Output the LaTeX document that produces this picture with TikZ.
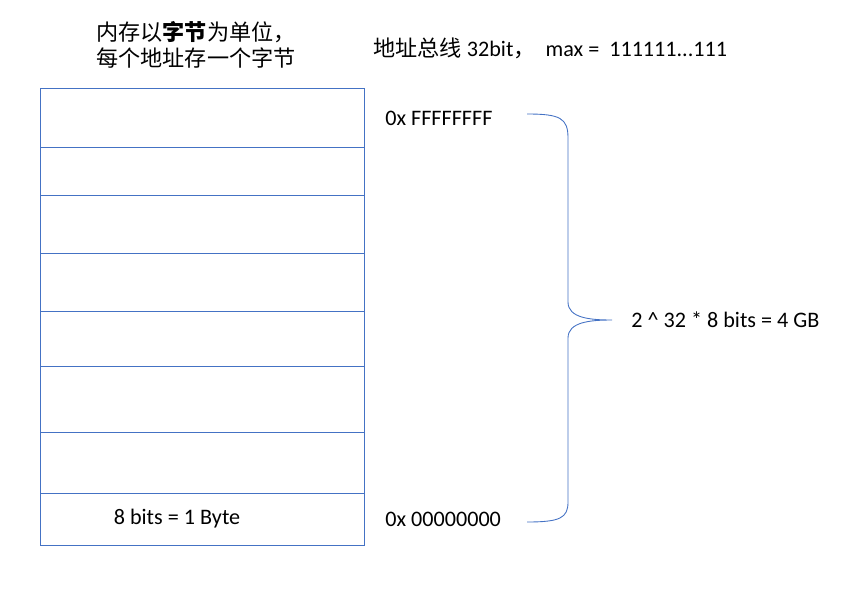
\documentclass[tikz,border=0pt]{standalone}
\usepackage{fontspec}
\setmainfont{Carlito}
\newfontfamily\cjk{Noto Sans CJK SC}
\usetikzlibrary{positioning}
\definecolor{memblue}{RGB}{68,114,196}
\tikzset{
  cell/.style={draw=memblue, line width=0.5pt},
  lbl/.style={font=\fontsize{12.6}{15}\selectfont, inner sep=0pt},
  brace/.style={draw=memblue, line width=0.5pt},
}
\begin{document}
\begin{tikzpicture}[x=0.02cm, y=-0.02cm]
\useasboundingbox (0,0) rectangle (857,598);

% --- memory column ---
\draw[cell] (40,88) rectangle (364,545);
\foreach \yy in {147,195,253,311,366,432,493}
  \draw[cell] (40,\yy) -- (364,\yy);

% --- texts ---
\node[lbl, align=center] (title) at (196,45)
  {\cjk 内存以\textbf{字节}为单位，\\ \cjk 每个地址存一个字节};
\node[lbl, anchor=west] (bus) at (373,48) {{\cjk 地址总线} 32bit{\cjk ，}\ \ max =\ \ 111111...111};
\node[lbl, anchor=west] (top) at (385,118) {0x FFFFFFFF};
\node[lbl, anchor=west] (bot) at (385,519) {0x 00000000};
\node[lbl] (byte) at (177,519) {8 bits = 1 Byte};
\node[lbl, anchor=west] (size) at (631,320) {2 \^{} 32 * 8 bits = 4 GB};

% --- brace ---
\coordinate (bt) at (527,114);
\coordinate (bb) at (527,522);
\coordinate (tip) at (612,320);
\draw[brace] (bt) .. controls (560,114) and (568,118) .. (568,138)
  -- (568,302) .. controls (568,318) and (590,320) .. (tip)
  .. controls (590,320) and (568,322) .. (568,338)
  -- (568,502) .. controls (568,518) and (560,522) .. (bb);
\end{tikzpicture}
\end{document}
